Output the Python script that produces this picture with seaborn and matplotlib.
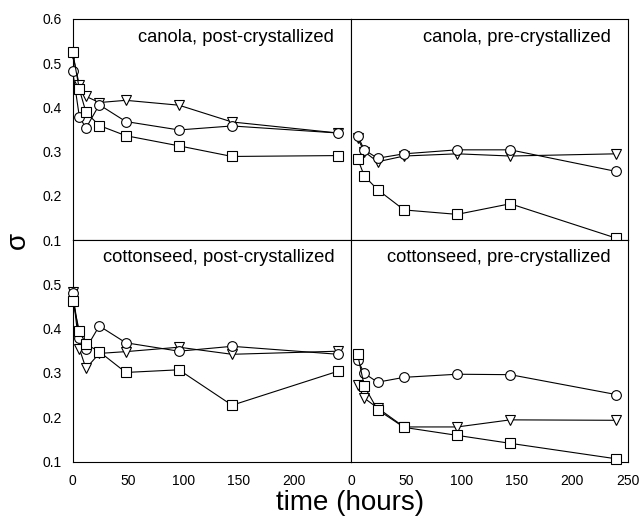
import matplotlib
matplotlib.use("Agg")
import matplotlib.pyplot as plt
import seaborn as sns
import pandas as pd

# ---- data ----
t_post = [0, 6, 12, 24, 48, 96, 144, 240]
t_pre = [6, 12, 24, 48, 96, 144, 240]

canola_post_circle = [0.482, 0.379, 0.353, 0.406, 0.368, 0.349, 0.358, 0.342]
canola_post_tri = [0.520, 0.450, 0.425, 0.411, 0.416, 0.405, 0.367, 0.342]
canola_post_sq = [0.525, 0.441, 0.389, 0.359, 0.336, 0.313, 0.289, 0.291]

canola_pre_circle = [0.336, 0.304, 0.285, 0.295, 0.304, 0.304, 0.255]
canola_pre_tri = [0.330, 0.300, 0.277, 0.290, 0.295, 0.290, 0.295]
canola_pre_sq = [0.284, 0.245, 0.214, 0.168, 0.158, 0.182, 0.104]

cotton_post_circle = [0.481, 0.379, 0.355, 0.406, 0.368, 0.349, 0.360, 0.342]
cotton_post_tri = [0.483, 0.355, 0.310, 0.344, 0.348, 0.358, 0.342, 0.349]
cotton_post_sq = [0.463, 0.394, 0.365, 0.348, 0.301, 0.307, 0.227, 0.304]

cotton_pre_circle = [0.329, 0.299, 0.279, 0.290, 0.297, 0.296, 0.251]
cotton_pre_tri = [0.273, 0.243, 0.221, 0.178, 0.178, 0.194, 0.193]
cotton_pre_sq = [0.342, 0.270, 0.217, 0.177, 0.159, 0.141, 0.106]

panel_titles = ["canola, post-crystallized", "canola, pre-crystallized",
                "cottonseed, post-crystallized", "cottonseed, pre-crystallized"]
y_ticks_top = [0.1, 0.2, 0.3, 0.4, 0.5, 0.6]
y_ticks_bottom = [0.1, 0.2, 0.3, 0.4, 0.5]
x_ticks_left = [0, 50, 100, 150, 200]
x_ticks_right = [0, 50, 100, 150, 200, 250]

sns.set_style("white")
plt.rcParams['font.family'] = ['Liberation Sans', 'DejaVu Sans']
plt.rcParams['text.color'] = 'black'

fig = plt.figure(figsize=(6.41, 5.24), dpi=100)
W, H = 641.0, 524.0
xl0, xmid, xr1 = 72.7, 351.0, 627.5
yt0, ymid, yb1 = 19.0, 240.0, 461.5

def mk_ax(x0, x1, y0, y1):
    return fig.add_axes([x0 / W, 1 - y1 / H, (x1 - x0) / W, (y1 - y0) / H])

ax_tl = mk_ax(xl0, xmid, yt0, ymid)
ax_tr = mk_ax(xmid, xr1, yt0, ymid)
ax_bl = mk_ax(xl0, xmid, ymid, yb1)
ax_br = mk_ax(xmid, xr1, ymid, yb1)

panels = [
    (ax_tl, t_post, canola_post_tri, canola_post_circle, canola_post_sq, panel_titles[0]),
    (ax_tr, t_pre, canola_pre_tri, canola_pre_circle, canola_pre_sq, panel_titles[1]),
    (ax_bl, t_post, cotton_post_tri, cotton_post_circle, cotton_post_sq, panel_titles[2]),
    (ax_br, t_pre, cotton_pre_tri, cotton_pre_circle, cotton_pre_sq, panel_titles[3]),
]

for ax, t, tri, cir, sq, title in panels:
    for vals, m, ms in [(tri, 'v', 7.5), (cir, 'o', 7.0), (sq, 's', 6.5)]:
        df = pd.DataFrame({"time": t, "sigma": vals})
        sns.lineplot(data=df, x="time", y="sigma", ax=ax, color="black",
                     linewidth=0.8, marker=m, markersize=ms,
                     markerfacecolor="white", markeredgecolor="black",
                     markeredgewidth=0.8, estimator=None, sort=False,
                     legend=False, clip_on=False, zorder=5)
    ax.set_ylim(0.1, 0.6)
    ax.set_xlabel("")
    ax.set_ylabel("")
    ax.text(0.94, 0.915 if ax in (ax_tl, ax_tr) else 0.92, title,
            transform=ax.transAxes, ha="right", va="center", fontsize=13.2,
            color="black")
    for s in ax.spines.values():
        s.set_color("black")
        s.set_linewidth(0.8)
    ax.tick_params(direction="in", length=3, width=0.7, labelsize=10,
                   colors="black")
    ax.tick_params(axis="y", pad=8)
    ax.tick_params(axis="x", pad=9)

ax_tl.set_xlim(0, 251.5)
ax_bl.set_xlim(0, 251.5)
ax_tr.set_xlim(0, 250)
ax_br.set_xlim(0, 250)

ax_tl.set_yticks(y_ticks_top)
ax_tl.set_yticklabels([f"{v:.1f}" for v in y_ticks_top])
ax_bl.set_yticks(y_ticks_bottom)
ax_bl.set_yticklabels([f"{v:.1f}" for v in y_ticks_bottom])
for ax in (ax_tr, ax_br):
    ax.set_yticks([])
for ax in (ax_tl, ax_tr):
    ax.set_xticks(x_ticks_right)
    ax.set_xticklabels([])
ax_bl.set_xticks(x_ticks_left)
ax_bl.set_xticklabels([str(v) for v in x_ticks_left])
ax_br.set_xticks(x_ticks_right)
ax_br.set_xticklabels([str(v) for v in x_ticks_right])
ax_tr.tick_params(axis="x", length=0)

fig.text(350 / W, 1 - 503 / H, "time (hours)", ha="center", va="center",
         fontsize=20, color="black")
fig.text(18 / W, 1 - 240 / H, "σ", ha="center", va="center", fontsize=20,
         rotation=90, color="black")

fig.savefig("out.png", dpi=100)
